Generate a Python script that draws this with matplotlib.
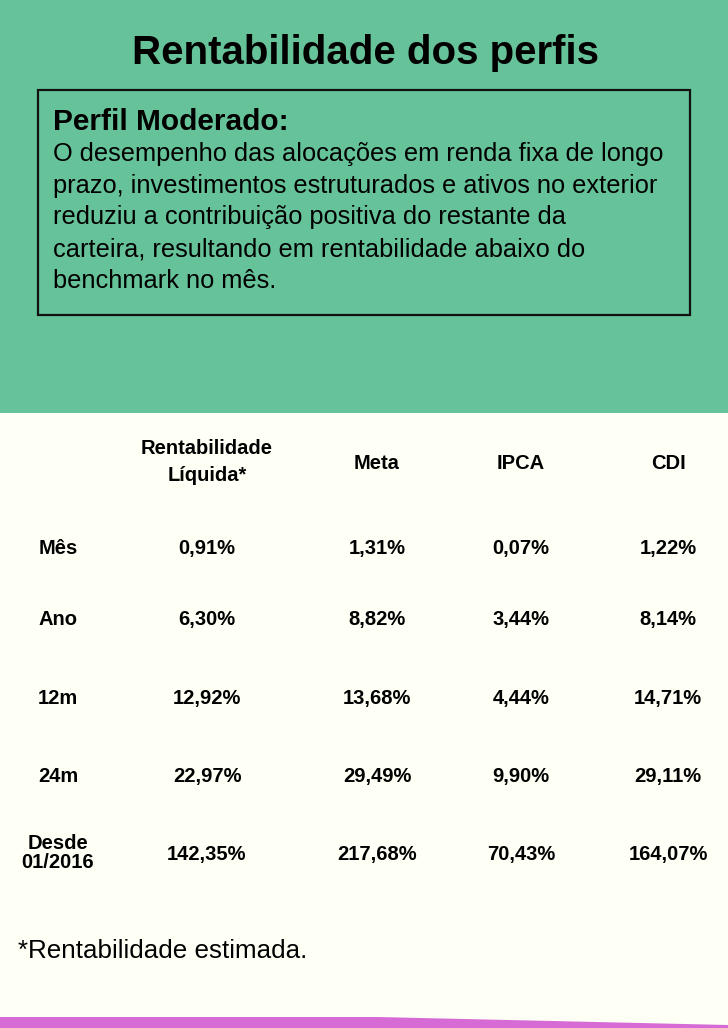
import matplotlib
matplotlib.use("Agg")
import matplotlib.pyplot as plt
from matplotlib.patches import Rectangle, Polygon

# ---- data ----
title = "Rentabilidade dos perfis"
box_heading = "Perfil Moderado:"
box_lines = [
    "O desempenho das alocações em renda fixa de longo",
    "prazo, investimentos estruturados e ativos no exterior",
    "reduziu a contribuição positiva do restante da",
    "carteira, resultando em rentabilidade abaixo do",
    "benchmark no mês.",
]
columns = ["Rentabilidade\nLíquida*", "Meta", "IPCA", "CDI"]
periods = ["Mês", "Ano", "12m", "24m", "Desde\n01/2016"]
rent_liquida = [0.91, 6.30, 12.92, 22.97, 142.35]
meta = [1.31, 8.82, 13.68, 29.49, 217.68]
ipca = [0.07, 3.44, 4.44, 9.90, 70.43]
cdi = [1.22, 8.14, 14.71, 29.11, 164.07]
footnote = "*Rentabilidade estimada."

GREEN = "#66C399"
CREAM = "#FEFFF5"
PURPLE = "#D66BD6"

W, H = 728, 1028
fig = plt.figure(figsize=(W / 100, H / 100), dpi=100)
fig.patch.set_facecolor(CREAM)
ax = fig.add_axes([0, 0, 1, 1])
ax.set_xlim(0, W)
ax.set_ylim(H, 0)
ax.axis("off")

body_font = ["Liberation Sans", "DejaVu Sans"]
table_font = ["Liberation Sans", "DejaVu Sans"]

# backgrounds
ax.add_patch(Rectangle((0, 0), W, 413, facecolor=GREEN, edgecolor="none", zorder=0))
ax.add_patch(Polygon([(0, 1017), (377, 1017), (728, 1025), (728, H), (0, H)],
                     closed=True, facecolor=PURPLE, edgecolor="none", zorder=0))

# title
ax.text(365, 53, title, ha="center", va="center", fontsize=29, fontweight="bold",
        family=body_font, color="black")

# box
ax.add_patch(Rectangle((38, 90), 652, 225, facecolor="none", edgecolor="#111111",
                       linewidth=1.6, zorder=2))
ax.text(53, 130, box_heading, ha="left", va="baseline", fontsize=21.5, fontweight="bold",
        family=body_font, color="black")
for i, line in enumerate(box_lines):
    ax.text(53, 161 + i * 31.7, line, ha="left", va="baseline", fontsize=18.3,
            family=body_font, color="black")

# table
col_x = [207, 377, 521, 668]
row_y = [547, 618, 697, 775, 853]
label_x = 58
half_cap = 7
for cx, name in zip(col_x, columns):
    if "\n" in name:
        ax.text(cx, 462, name, ha="center", va="center", fontsize=14.5,
                fontweight="bold", family=table_font, color="black", linespacing=1.55)
    else:
        ax.text(cx, 462 + half_cap, name, ha="center", va="baseline", fontsize=14.5,
                fontweight="bold", family=table_font, color="black")

series = [rent_liquida, meta, ipca, cdi]
for r, (ry, period) in enumerate(zip(row_y, periods)):
    if "\n" in period:
        ax.text(label_x, ry, period, ha="center", va="center", fontsize=14.5,
                fontweight="bold", family=table_font, color="black", linespacing=1.05)
    else:
        ax.text(label_x, ry + half_cap, period, ha="center", va="baseline",
                fontsize=14.5, fontweight="bold", family=table_font, color="black")
    for cx, vals in zip(col_x, series):
        txt = f"{vals[r]:.2f}".replace(".", ",") + "%"
        ax.text(cx, ry + half_cap, txt, ha="center", va="baseline", fontsize=14.5,
                fontweight="bold", family=table_font, color="black")

# footnote
ax.text(18, 958, footnote, ha="left", va="baseline", fontsize=18.7, family=body_font,
        color="black")

fig.savefig("out.png", dpi=100, facecolor=fig.get_facecolor())
